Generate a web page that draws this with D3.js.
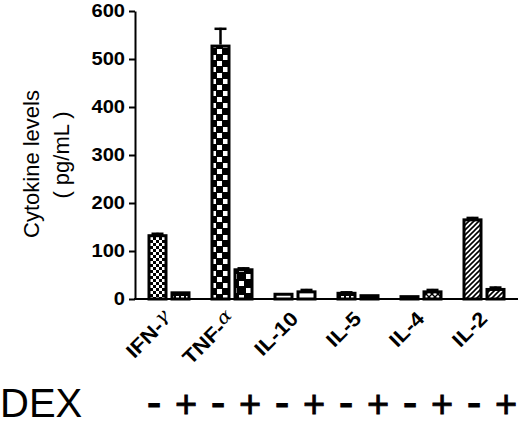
<!DOCTYPE html>
<html><head><meta charset="utf-8">
<script src="https://cdn.jsdelivr.net/npm/d3@7"></script>
<style>
html,body{margin:0;padding:0;background:#fff;}
svg{display:block;font-family:"Liberation Sans",Arial,sans-serif;}
</style></head>
<body>
<svg id="chart" width="520" height="426"></svg>
<script>
// ---- data ----
const categories = ["IFN-γ","TNF-α","IL-10","IL-5","IL-4","IL-2"];
const dexLevels = ["-","+"];
const valuesMinus = [135, 530, 13, 15, 8, 168];
const valuesPlus  = [16, 64, 18, 10, 18, 23];
const errMinus    = [3, 35, 0, 1, 0, 3];
const errPlus     = [0, 2, 3, 0, 3, 3];
const yTicks = [0,100,200,300,400,500,600];

// fill pattern per bar (style table, indexed by category then dex)
const fillMinus = ["checkFine","checkMed","white","gridSmall","black","hatch"];
const fillPlus  = ["gridSmall","checkBig","white","black","cross","hatch"];

const svg = d3.select("#chart");
const defs = svg.append("defs");
function pat(id,w,h,draw){
  const p = defs.append("pattern").attr("id",id).attr("patternUnits","userSpaceOnUse")
    .attr("width",w).attr("height",h);
  draw(p);
}
pat("checkFine",6,6,p=>{
  p.append("rect").attr("width",6).attr("height",6).attr("fill","#fff");
  p.append("rect").attr("width",3).attr("height",3).attr("fill","#000");
  p.append("rect").attr("x",3).attr("y",3).attr("width",3).attr("height",3).attr("fill","#000");
});
pat("checkMed",12,12,p=>{
  p.append("rect").attr("width",12).attr("height",12).attr("fill","#000");
  p.append("rect").attr("x",1).attr("y",1).attr("width",5).attr("height",5).attr("fill","#fff");
  p.append("rect").attr("x",7).attr("y",7).attr("width",5).attr("height",5).attr("fill","#fff");
});
pat("checkBig",14,14,p=>{
  p.append("rect").attr("width",14).attr("height",14).attr("fill","#000");
  p.append("rect").attr("x",1).attr("y",1).attr("width",5).attr("height",5).attr("fill","#fff");
  p.append("rect").attr("x",8).attr("y",8).attr("width",5).attr("height",5).attr("fill","#fff");
});
pat("gridSmall",5,5,p=>{
  p.append("rect").attr("width",5).attr("height",5).attr("fill","#000");
  p.append("rect").attr("x",1).attr("y",1).attr("width",3).attr("height",3).attr("fill","#fff");
});
pat("hatch",5,5,p=>{
  p.append("rect").attr("width",5).attr("height",5).attr("fill","#fff");
  p.append("path").attr("d","M-1,6 L6,-1 M-1,1 L1,-1 M4,6 L6,4").attr("stroke","#000").attr("stroke-width",1.6);
});
pat("cross",6,6,p=>{
  p.append("rect").attr("width",6).attr("height",6).attr("fill","#fff");
  p.append("path").attr("d","M0,0 L6,6 M6,0 L0,6").attr("stroke","#000").attr("stroke-width",1.4);
});
const fillOf = k => k==="white" ? "#fff" : k==="black" ? "#000" : `url(#${k})`;

// ---- scales ----
const y = d3.scaleLinear().domain([0,600]).range([299,11]);
const x0 = d3.scaleBand().domain(categories).range([138,516]).padding(0);
const x1 = d3.scaleBand().domain(dexLevels).range([9.5,52.5]).paddingInner(3/23);

const rows = [];
categories.forEach((c,i)=>{
  rows.push({cat:c, dex:"-", v:valuesMinus[i], e:errMinus[i], f:fillMinus[i]});
  rows.push({cat:c, dex:"+", v:valuesPlus[i],  e:errPlus[i],  f:fillPlus[i]});
});

// ---- error bars ----
const eg = svg.append("g");
rows.filter(d=>d.e>0).forEach(d=>{
  const cx = x0(d.cat)+x1(d.dex)+x1.bandwidth()/2;
  eg.append("line").attr("x1",cx).attr("x2",cx).attr("y1",y(d.v)).attr("y2",y(d.v+d.e))
    .attr("stroke","#000").attr("stroke-width",2.5);
  eg.append("line").attr("x1",cx-6).attr("x2",cx+6).attr("y1",y(d.v+d.e)+1).attr("y2",y(d.v+d.e)+1)
    .attr("stroke","#000").attr("stroke-width",2.5);
});

// ---- bars ----
svg.append("g").selectAll("rect").data(rows).join("rect")
  .attr("x",d=>x0(d.cat)+x1(d.dex)+1.5)
  .attr("width",x1.bandwidth()-3)
  .attr("y",d=>y(d.v)+1.5)
  .attr("height",d=>Math.max(0.5,y(0)-y(d.v)-1.5))
  .attr("fill",d=>fillOf(d.f))
  .attr("stroke","#000").attr("stroke-width",3);

// ---- axes ----
const yAxis = svg.append("g").attr("transform","translate(135,0)")
  .call(d3.axisLeft(y).tickValues(yTicks).tickSize(6).tickSizeOuter(0).tickPadding(4));
yAxis.select(".domain").attr("stroke-width",2);
yAxis.selectAll(".tick line").attr("stroke-width",2);
yAxis.selectAll(".tick text").attr("font-size",17.5).attr("font-weight","bold")
  .attr("font-family","'Liberation Sans',Arial,sans-serif").attr("fill","#000")
  .attr("transform","scale(1.15,1)").attr("x",-10/1.15);

svg.append("line").attr("x1",134).attr("x2",518).attr("y1",y(0)).attr("y2",y(0))
  .attr("stroke","#000").attr("stroke-width",2);

// x category labels
const xl = svg.append("g");
categories.forEach(c=>{
  const cx = x0(c)+x0.bandwidth()/2;
  const t = xl.append("text")
    .attr("transform",`translate(${cx+4},320) rotate(-45) scale(1.12,1)`)
    .attr("text-anchor","end").attr("font-size",20).attr("font-weight","bold").attr("fill","#000");
  const parts = c.split("-");
  const greek = /[α-ω]/.test(parts[1]);
  if(greek){
    t.append("tspan").text(parts[0]+"-");
    t.append("tspan").text(parts[1]).attr("font-family","'DejaVu Serif',serif").attr("font-style","italic")
      .attr("font-weight","normal").attr("font-size",18).attr("dy",-5);
  } else {
    t.text(c);
  }
});

// y title
svg.append("text").attr("transform","translate(39,164) rotate(-90)").attr("text-anchor","middle")
  .attr("font-size",22).attr("fill","#000").text("Cytokine levels");
svg.append("text").attr("transform","translate(69,155) rotate(-90)").attr("text-anchor","middle")
  .attr("font-size",22).attr("fill","#000").text("( pg/mL )");

// DEX row: signs evenly spaced under the chart
svg.append("text").attr("x",0).attr("y",417).attr("font-size",40).attr("fill","#000").text("DEX");
const signX = d3.scalePoint().domain(d3.range(rows.length)).range([154,506]);
svg.append("g").selectAll("text").data(rows).join("text")
  .attr("x",(d,i)=>signX(i)).attr("y",417).attr("text-anchor","middle")
  .attr("font-size",d=>d.dex==="-" ? 44 : 38).attr("fill","#000")
  .attr("stroke","#000").attr("stroke-width",0.8)
  .text(d=>d.dex);
</script>
</body></html>
